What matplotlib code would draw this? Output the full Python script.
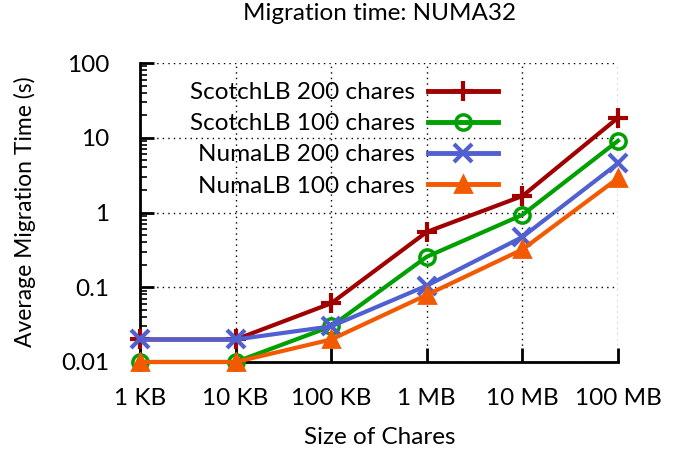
import matplotlib
matplotlib.use("Agg")
import matplotlib.pyplot as plt
from matplotlib.ticker import LogLocator, NullFormatter

plt.rcParams['font.family'] = ['Lato', 'DejaVu Sans']

categories = ["1 KB", "10 KB", "100 KB", "1 MB", "10 MB", "100 MB"]
series_names = ["ScotchLB 200 chares", "ScotchLB 100 chares",
                "NumaLB 200 chares", "NumaLB 100 chares"]
scotch200 = [0.02, 0.02, 0.061, 0.55, 1.66, 18.5]
scotch100 = [0.01, 0.01, 0.03, 0.256, 0.93, 9.1]
numa200 = [0.02, 0.02, 0.03, 0.105, 0.47, 4.55]
numa100 = [0.01, 0.01, 0.02, 0.079, 0.32, 2.87]
y_ticks = [0.01, 0.1, 1, 10, 100]
y_tick_labels = ["0.01", "0.1", "1", "10", "100"]

colors = ["#A00000", "#00A000", "#5060D0", "#F25900"]
markers = ["+", "o", "x", "^"]
msizes = [14, 11, 13, 11]
mews = [3, 2.5, 3, 2]

FS = 17.5

fig = plt.figure(figsize=(6.88, 4.57), dpi=100)
ax = fig.add_axes([140/688, 1 - 362/457, (618-140)/688, (362-63)/457])

x = list(range(len(categories)))
for vals, name, c, m, ms, mew in zip([scotch200, scotch100, numa200, numa100],
                                    series_names, colors, markers, msizes, mews):
    ax.plot(x, vals, color=c, lw=3, marker=m, markersize=ms, markeredgewidth=mew,
            markerfacecolor=(c if m == "^" else "none"), label=name, clip_on=False,
            zorder=3)

ax.set_yscale("log")
ax.set_ylim(0.01, 100)
ax.set_xlim(0, len(categories) - 1)
ax.set_yticks(y_ticks)
ax.set_yticklabels(y_tick_labels)
ax.yaxis.set_minor_locator(LogLocator(base=10, subs=range(2, 10)))
ax.yaxis.set_minor_formatter(NullFormatter())
ax.set_xticks(x)
ax.set_xticklabels(categories)

for s in ["top", "right"]:
    ax.spines[s].set_visible(False)
for s in ["left", "bottom"]:
    ax.spines[s].set_linewidth(2)

ax.tick_params(axis="y", which="major", direction="in", length=10, width=2,
               labelsize=FS, pad=22)
ax.tick_params(axis="x", which="major", direction="in", length=10, width=2,
               labelsize=FS, pad=19)
ax.tick_params(axis="y", which="minor", direction="in", length=5, width=1.2)
ax.grid(True, which="major", linestyle=(0, (1, 3)), color="black", lw=1)

fig.text(380/688, 1 - 14/457, "Migration time: NUMA32", fontsize=FS,
         ha="center", va="center")
fig.text(380/688, 1 - 438/457, "Size of Chares", fontsize=FS,
         ha="center", va="center")
fig.text(25/688, 1 - 212/457, "Average Migration Time (s)", fontsize=16.5,
         ha="center", va="center", rotation=90)

leg = fig.legend(*ax.get_legend_handles_labels(), loc="upper right",
                 bbox_to_anchor=(498/688, 1 - 82/457), frameon=False,
                 markerfirst=False, fontsize=FS, handlelength=2.9,
                 labelspacing=0.42, borderaxespad=0, borderpad=0,
                 handletextpad=0.5)
for t in leg.get_texts():
    t.set_ha("right")
for h in leg.legend_handles:
    h.set_linewidth(3.5)

fig.savefig("out.png", dpi=100)
